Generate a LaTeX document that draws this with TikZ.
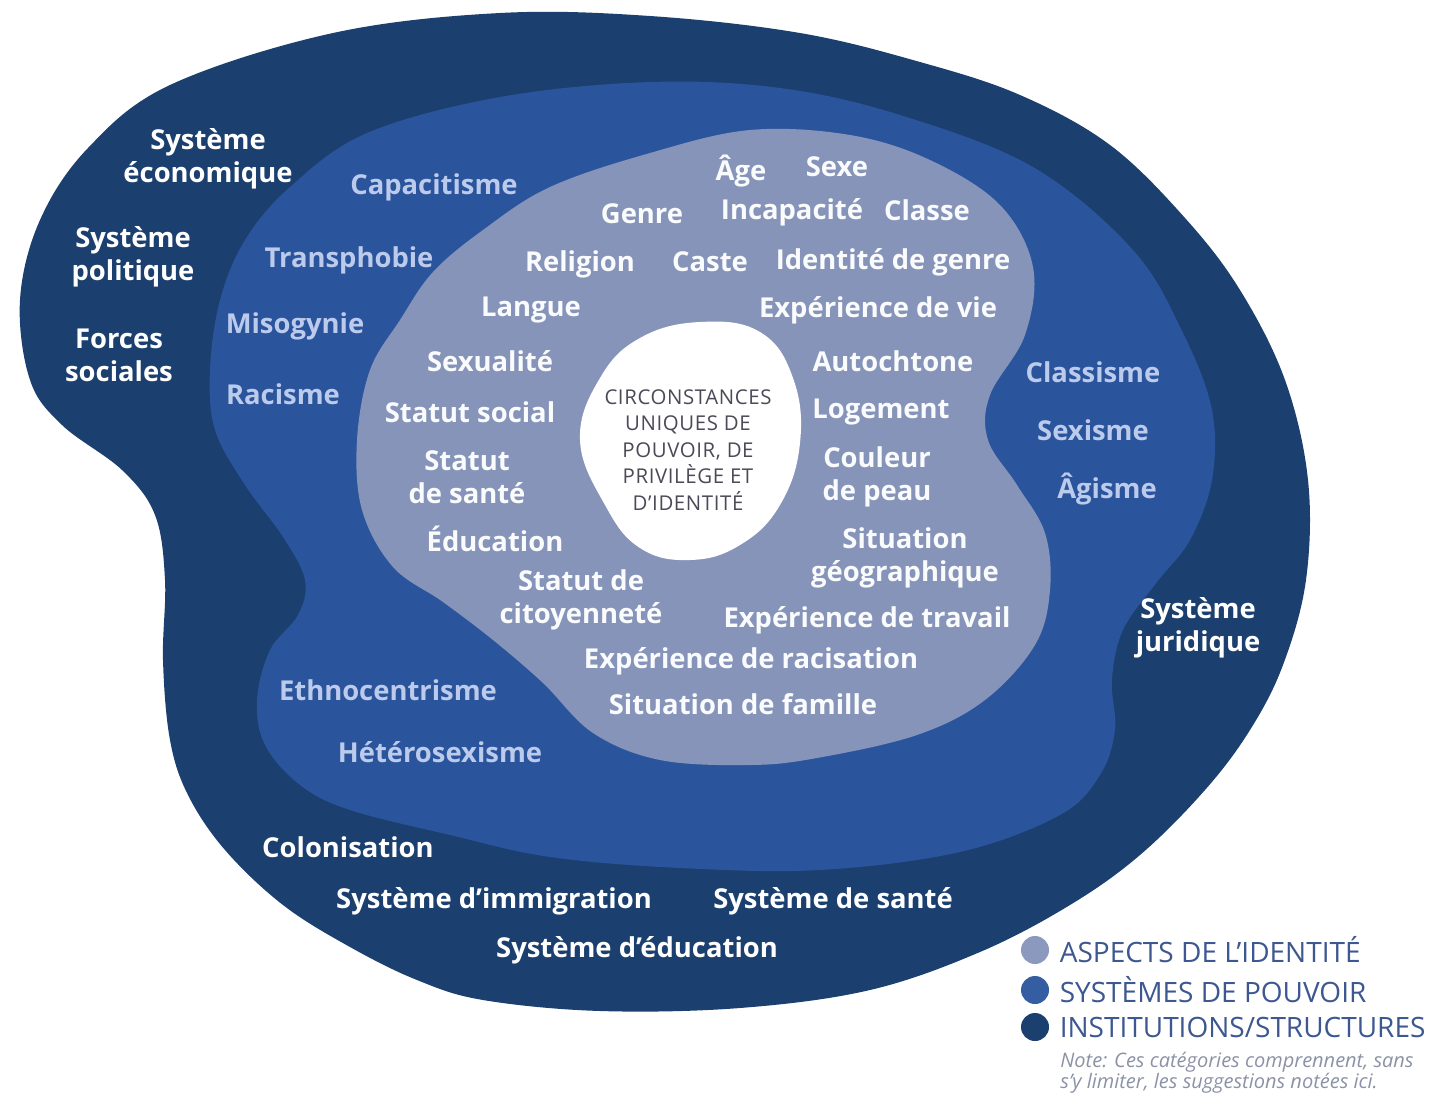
\documentclass[tikz,border=0pt]{standalone}
\usepackage{fontspec}
\setmainfont{Open Sans}
\usetikzlibrary{positioning}

\definecolor{instblue}{HTML}{1B3F6E}
\definecolor{powblue}{HTML}{2A549C}
\definecolor{idblue}{HTML}{8794BA}
\definecolor{powtext}{HTML}{BCCBEC}
\definecolor{legtext}{HTML}{3D5790}
\definecolor{notegray}{HTML}{8C92A6}
\definecolor{coretext}{HTML}{4A4B57}

\newcommand{\lblsize}{\bfseries\fontsize{13.7}{16.5}\selectfont}

\tikzset{
  inst/.style={text=white,font=\lblsize,align=center,inner sep=0pt},
  pow/.style={text=powtext,font=\lblsize,inner sep=0pt},
  ident/.style={text=white!96!idblue,font=\lblsize,align=center,inner sep=0pt},
  legdot/.style={circle,minimum size=14pt,inner sep=0pt},
  legtxt/.style={text=legtext,font=\fontsize{14}{15}\selectfont,anchor=west,inner sep=0pt}
}

\begin{document}
\begin{tikzpicture}[x=0.5pt,y=-0.5pt]
  \useasboundingbox (0,0) rectangle (1432,1094);
  % institutions / structures
  \fill[instblue] plot[smooth cycle,tension=0.6] coordinates {
    (500,13) (650,16) (800,33) (920,62) (1020,95) (1110,145) (1185,218)
    (1240,290) (1285,380) (1308,480) (1306,580) (1283,665) (1250,730)
    (1205,790) (1140,855) (1070,905) (980,952) (870,990) (740,1008)
    (600,1011) (483,1000) (417,980) (350,947) (283,905) (225,850)
    (188,795) (170,740) (163,660) (165,580) (155,515) (122,470) (62,425)
    (30,380) (20,300) (40,220) (88,148) (170,85) (333,33)};
  % systemes de pouvoir
  \fill[powblue] plot[smooth cycle,tension=0.6] coordinates {
    (500,97) (650,82) (780,88) (900,115) (1033,167) (1133,250) (1183,333)
    (1212,410) (1212,480) (1190,540) (1157,582) (1123,630) (1112,680)
    (1115,730) (1100,775) (1060,815) (960,852) (820,870) (680,868)
    (550,857) (450,835) (350,810) (300,785) (265,745) (257,700) (270,650)
    (298,615) (305,580) (283,537) (245,485) (215,430) (210,370) (220,300)
    (245,240) (290,187) (367,133)};
  % aspects de l'identite
  \fill[idblue] plot[smooth cycle,tension=0.6] coordinates {
    (650,153) (750,130) (850,135) (930,160) (1000,205) (1033,267)
    (1025,335) (990,395) (988,440) (1017,485) (1045,533) (1050,590)
    (1035,645) (985,700) (917,735) (817,758) (750,765) (660,760)
    (593,733) (543,683) (493,640) (443,602) (393,567) (362,510)
    (357,440) (370,370) (400,320) (433,272) (483,230) (550,187)};
  % centre
  \fill[white] plot[smooth cycle,tension=0.7] coordinates {
    (700,322) (760,332) (793,378) (800,443) (780,505) (740,545)
    (690,560) (640,548) (605,505) (580,440) (600,378) (640,338)};
  \node[text=coretext,align=center,
    font=\addfontfeature{LetterSpace=3}\fontsize{10.2}{13.25}\selectfont]
    (core) at (688,450) {CIRCONSTANCES\\UNIQUES DE\\POUVOIR, DE\\PRIVILÈGE ET\\D'IDENTITÉ};

  % institutions
  \node[inst] (eco) at (208,159) {Système\\économique};
  \node[inst] (pol) at (133,257) {Système\\politique};
  \node[inst] (soc) at (119,355) {Forces\\sociales};
  \node[inst] (jur) at (1198,628) {Système\\juridique};
  \node[inst] (colo) at (348,847) {Colonisation};
  \node[inst] (immi) at (494,901) {Système d’immigration};
  \node[inst] (sante) at (833,901) {Système de santé};
  \node[inst] (educ) at (637,950) {Système d’éducation};

  % systemes de pouvoir
  \node[pow] (capa) at (434,187) {Capacitisme};
  \node[pow] (trans) at (349,260) {Transphobie};
  \node[pow] (miso) at (295,326) {Misogynie};
  \node[pow] (raci) at (283,394) {Racisme};
  \node[pow] (clas) at (1093,372) {Classisme};
  \node[pow] (sexi) at (1093,430) {Sexisme};
  \node[pow] (agis) at (1107,489) {Âgisme};
  \node[pow] (ethno) at (388,690) {Ethnocentrisme};
  \node[pow] (hetero) at (440,752) {Hétérosexisme};

  % aspects de l'identite
  \node[ident] (age) at (741,171) {Âge};
  \node[ident] (sexe) at (837,167) {Sexe};
  \node[ident] (genre) at (642,214) {Genre};
  \node[ident] (incap) at (792,212) {Incapacité};
  \node[ident] (classe) at (927,210) {Classe};
  \node[ident] (relig) at (580,264) {Religion};
  \node[ident] (caste) at (710,262) {Caste};
  \node[ident] (idgenre) at (893,262) {Identité de genre};
  \node[ident] (langue) at (531,310) {Langue};
  \node[ident] (expvie) at (878,310) {Expérience de vie};
  \node[ident] (sexu) at (490,361) {Sexualité};
  \node[ident] (autoch) at (893,361) {Autochtone};
  \node[ident] (statsoc) at (470,412) {Statut social};
  \node[ident] (loge) at (881,412) {Logement};
  \node[ident] (sante2) at (467,477) {Statut\\de santé};
  \node[ident] (peau) at (877,477) {Couleur\\de peau};
  \node[ident] (educ2) at (495,539) {Éducation};
  \node[ident] (geo) at (905,558) {Situation\\géographique};
  \node[ident] (citoy) at (581,600) {Statut de\\citoyenneté};
  \node[ident] (travail) at (867,620) {Expérience de travail};
  \node[ident] (racis) at (751,661) {Expérience de racisation};
  \node[ident] (famille) at (743,704) {Situation de famille};

  % legende
  \node[legdot,fill=idblue!90!powtext] (d1) at (1035,950) {};
  \node[legdot,fill=powblue!95!white] (d2) at (1035,990) {};
  \node[legdot,fill=instblue] (d3) at (1035,1027) {};
  \node[legtxt,right=5pt of d1] (t1) {ASPECTS DE L'IDENTITÉ};
  \node[legtxt,right=5pt of d2] (t2) {SYSTÈMES DE POUVOIR};
  \node[legtxt,right=5pt of d3] (t3) {INSTITUTIONS/STRUCTURES};
  \node[text=notegray,anchor=north west,inner sep=0pt,align=left,
    font=\itshape\fontsize{10}{10.5}\selectfont] (note) at (1060,1052)
    {Note: Ces catégories comprennent, sans\\s’y limiter, les suggestions notées ici.};
\end{tikzpicture}
\end{document}
